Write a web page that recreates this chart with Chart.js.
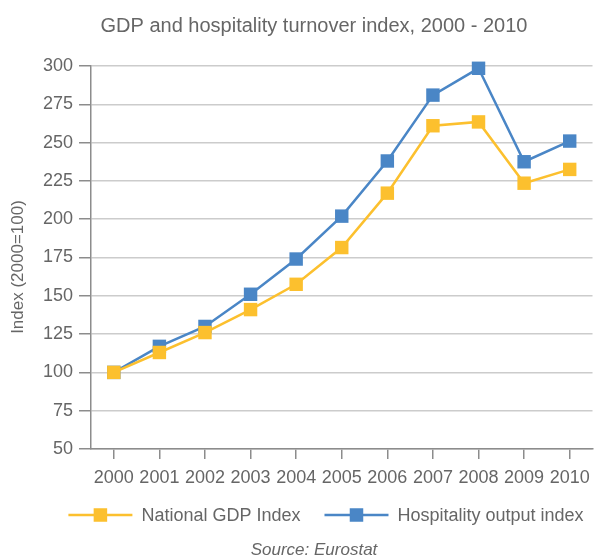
<!DOCTYPE html>
<html>
<head>
<meta charset="utf-8">
<title>GDP and hospitality turnover index, 2000 - 2010</title>
<script src="https://cdn.jsdelivr.net/npm/chart.js@4/dist/chart.umd.min.js"></script>
<style>
    html, body { margin: 0; padding: 0; background: #ffffff; }
    #wrap { width: 602px; height: 558px; }
</style>
</head>
<body>
<div id="wrap"><canvas id="line-chart" width="602" height="558"></canvas></div>
<script>
const years = ['2000', '2001', '2002', '2003', '2004', '2005', '2006', '2007', '2008', '2009', '2010']
const gdpIndex = [100, 113, 126, 141, 157.5, 181.5, 217, 261, 263.5, 223.5, 232.5]
const hospitalityIndex = [100, 117, 130, 151, 174, 202, 238, 281, 298.5, 237.5, 251]

const seriesLabels = ['National GDP Index', 'Hospitality output index']
const seriesColors = ['#fcc02e', '#4a86c6']

const yMin = 50
const yMax = 300
const yStep = 25

const chartTitle = 'GDP and hospitality turnover index, 2000 - 2010'
const yAxisTitle = 'Index (2000=100)'
const sourceNote = 'Source: Eurostat'

const FONT = '"Liberation Sans", Arial, sans-serif'
const TEXT_COLOR = '#666666'
const AXIS_COLOR = '#8c8c8c'
const GRID_COLOR = '#cccccc'

// title, axis title, legend and source line are drawn by hand so they can sit off-centre
const Decorations = {
    id: 'decorations',

    afterDraw(chart) {
        const ctx = chart.ctx
        ctx.save()
        ctx.fillStyle = TEXT_COLOR
        ctx.textBaseline = 'middle'
        ctx.textAlign = 'center'

        ctx.font = `20px ${FONT}`
        ctx.fillText(chartTitle, 314, 26)

        ctx.font = `italic 17px ${FONT}`
        ctx.fillText(sourceNote, 314, 550)

        ctx.save()
        ctx.translate(18, 267)
        ctx.rotate(-Math.PI / 2)
        ctx.font = `17px ${FONT}`
        ctx.fillText(yAxisTitle, 0, 0)
        ctx.restore()

        this.drawLegend(chart, ctx)
        ctx.restore()
    },

    drawLegend(chart, ctx) {
        const lineLen = 64
        const textGap = 9
        const itemGap = 24
        const square = 13.5
        const y = 515

        ctx.font = `18px ${FONT}`
        const items = chart.data.datasets.map((ds) => {
            return { ds, width: lineLen + textGap + ctx.measureText(ds.label).width }
        })
        const total = items.reduce((sum, item) => sum + item.width, 0) + itemGap * (items.length - 1)
        let x = 326 - total / 2

        items.forEach(({ ds, width }) => {
            ctx.strokeStyle = ds.borderColor
            ctx.lineWidth = ds.borderWidth
            ctx.beginPath()
            ctx.moveTo(x, y)
            ctx.lineTo(x + lineLen, y)
            ctx.stroke()

            ctx.fillStyle = ds.pointBackgroundColor
            ctx.fillRect(x + lineLen / 2 - square / 2, y - square / 2, square, square)

            ctx.fillStyle = TEXT_COLOR
            ctx.textAlign = 'left'
            ctx.fillText(ds.label, x + lineLen + textGap, y + 1)

            x += width + itemGap
        })
    }
}

function makeSeries(label, data, color) {
    return {
        label: label,
        data: data,
        borderColor: color,
        borderWidth: 2.5,
        backgroundColor: color,
        pointStyle: 'rect',
        pointRadius: 9.5,
        pointHoverRadius: 9.5,
        pointBackgroundColor: color,
        pointBorderWidth: 0,
        tension: 0,
        clip: false
    }
}

const chartConfig = {
    type: 'line',
    data: {
        labels: years,
        datasets: [
            makeSeries(seriesLabels[0], gdpIndex, seriesColors[0]),
            makeSeries(seriesLabels[1], hospitalityIndex, seriesColors[1])
        ]
    },
    options: {
        responsive: false,
        animation: false,
        devicePixelRatio: 1,
        layout: {
            padding: { top: 66, right: 0, bottom: 64, left: 0 }
        },
        plugins: {
            legend: { display: false },
            title: { display: false },
            tooltip: { enabled: false }
        },
        scales: {
            x: {
                offset: true,
                afterFit(scale) {
                    scale.height = 45
                },
                grid: {
                    drawOnChartArea: false,
                    offset: false,
                    tickLength: 10,
                    tickColor: AXIS_COLOR,
                    lineWidth: 1.5
                },
                border: { color: AXIS_COLOR, width: 1.5 },
                ticks: {
                    color: TEXT_COLOR,
                    font: { family: FONT, size: 18 },
                    padding: 8,
                    maxRotation: 0,
                    autoSkip: false
                }
            },
            y: {
                min: yMin,
                max: yMax,
                afterFit(scale) {
                    scale.width = 91
                },
                grid: {
                    color: GRID_COLOR,
                    lineWidth: 1.5,
                    tickLength: 12,
                    tickColor: AXIS_COLOR
                },
                border: { color: AXIS_COLOR, width: 1.5 },
                ticks: {
                    stepSize: yStep,
                    color: TEXT_COLOR,
                    font: { family: FONT, size: 18 },
                    padding: 6
                }
            }
        }
    },
    plugins: [Decorations]
}

let lineChart = new Chart(document.getElementById('line-chart'), chartConfig)
</script>
</body>
</html>
